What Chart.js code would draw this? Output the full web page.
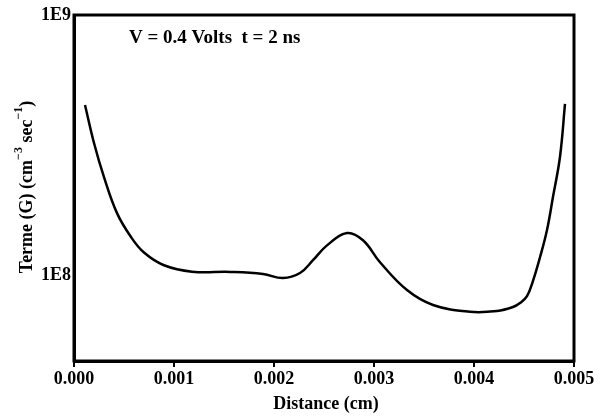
<!DOCTYPE html>
<html>
<head>
<meta charset="utf-8">
<script src="https://cdn.jsdelivr.net/npm/chart.js@4/dist/chart.umd.min.js"></script>
<style>
  html, body { margin: 0; padding: 0; background: #fff; }
  #wrap { width: 601px; height: 416px; }
</style>
</head>
<body>
<div id="wrap"><canvas id="chart" width="601" height="416"></canvas></div>
<script>
// values
const distance = [0.00011, 0.00020, 0.00030, 0.00043, 0.00057, 0.00070, 0.00090, 0.00118, 0.00156, 0.00189,
                  0.00209, 0.00226, 0.00239, 0.00253, 0.00273, 0.00289, 0.00306, 0.00333, 0.00359, 0.00396,
                  0.00423, 0.00439, 0.00446, 0.00453, 0.00459, 0.00466, 0.00473, 0.00479, 0.00486, 0.00491];
const termeG = [4.51e8, 3.22e8, 2.38e8, 1.73e8, 1.40e8, 1.22e8, 1.09e8, 1.03e8, 1.028e8, 1.01e8,
                9.73e7, 1.018e8, 1.14e8, 1.30e8, 1.45e8, 1.36e8, 1.12e8, 8.75e7, 7.67e7, 7.22e7,
                7.27e7, 7.53e7, 7.8e7, 8.3e7, 9.5e7, 1.17e8, 1.49e8, 2.0e8, 2.85e8, 4.55e8];
const xTickStep = 0.001;
const yTickValues = [1e8, 1e9];
const yTickLabels = ['1E8', '1E9'];

const FONT = '"Liberation Serif", "DejaVu Serif", serif';

const framePlugin = {
    id: 'frame',
    afterDraw(chart) {
        const { ctx, chartArea: a } = chart;
        ctx.save();
        ctx.strokeStyle = '#000';
        ctx.lineWidth = 3;
        ctx.strokeRect(a.left, a.top, a.right - a.left, a.bottom - a.top);

        ctx.fillStyle = '#000';
        // annotation
        ctx.font = 'bold 19px ' + FONT;
        ctx.textBaseline = 'middle';
        ctx.textAlign = 'left';
        ctx.fillText('V = 0.4 Volts  t = 2 ns', 129, 38);

        // x title
        ctx.font = 'bold 18px ' + FONT;
        ctx.textAlign = 'center';
        ctx.fillText('Distance (cm)', (a.left + a.right) / 2 + 2, 404);

        // y title with superscripts
        ctx.translate(27, 187);
        ctx.rotate(-Math.PI / 2);
        const parts = [['Terme (G) (cm', false], ['\u22123', true], [' sec', false], ['\u22121', true], [')', false]];
        let total = 0;
        parts.forEach(p => {
            ctx.font = (p[1] ? 'bold 12px ' : 'bold 18px ') + FONT;
            total += ctx.measureText(p[0]).width;
        });
        let x = -total / 2;
        ctx.textAlign = 'left';
        parts.forEach(p => {
            ctx.font = (p[1] ? 'bold 12px ' : 'bold 18px ') + FONT;
            ctx.fillText(p[0], x, p[1] ? -8 : 0);
            x += ctx.measureText(p[0]).width;
        });
        ctx.restore();
    }
};

new Chart(document.getElementById('chart').getContext('2d'), {
    type: 'line',
    data: {
        datasets: [{
            data: distance.map((d, i) => ({ x: d, y: termeG[i] })),
            borderColor: '#000',
            borderWidth: 2.5,
            pointRadius: 0,
            fill: false,
            tension: 0.4
        }]
    },
    options: {
        responsive: false,
        animation: false,
        layout: { padding: { top: 15, right: 27, left: 0, bottom: 0 } },
        plugins: { legend: { display: false }, tooltip: { enabled: false } },
        scales: {
            x: {
                type: 'linear',
                min: 0,
                max: 0.005,
                afterFit: s => { s.height = 55; },
                border: { display: true, color: '#000', width: 3 },
                grid: { display: true, drawOnChartArea: false, drawTicks: true, tickLength: 6, color: '#000', lineWidth: 2 },
                ticks: {
                    stepSize: xTickStep,
                    color: '#000',
                    padding: 2,
                    font: { family: FONT, size: 18, weight: 'bold' },
                    callback: v => v.toFixed(3)
                }
            },
            y: {
                type: 'logarithmic',
                min: 4.67e7,
                max: 1e9,
                afterFit: s => { s.width = 74; },
                afterBuildTicks: s => { s.ticks = yTickValues.map(v => ({ value: v })); },
                border: { display: true, color: '#000', width: 3 },
                grid: { display: false, drawTicks: false },
                ticks: {
                    color: '#000',
                    padding: 3,
                    font: { family: FONT, size: 18, weight: 'bold' },
                    callback: v => yTickLabels[yTickValues.indexOf(v)] ?? ''
                }
            }
        }
    },
    plugins: [framePlugin]
});
</script>
</body>
</html>
